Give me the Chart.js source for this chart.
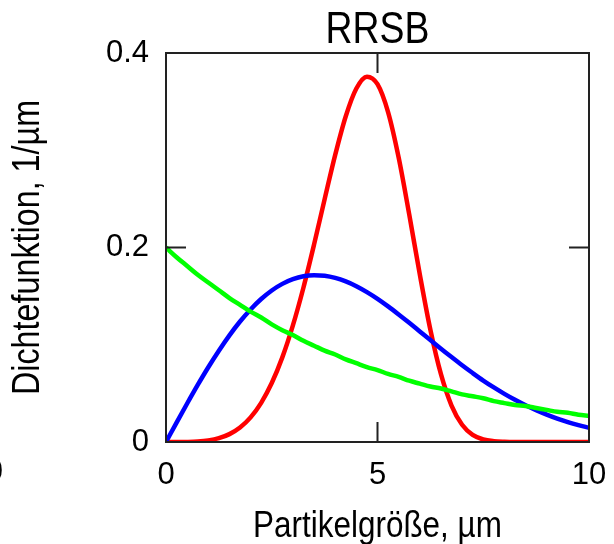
<!DOCTYPE html>
<html>
<head>
<meta charset="utf-8">
<script src="https://cdn.jsdelivr.net/npm/chart.js@4/dist/chart.umd.min.js"></script>
<style>
  html, body { margin: 0; padding: 0; background: #fff; }
  #c { display: block; }
</style>
</head>
<body>
<canvas id="c" width="614" height="544"></canvas>
<script>
const FONT = "'Liberation Sans Narrow', 'Liberation Sans', Arial, sans-serif";

const titel = 'RRSB';
const xTitel = 'Partikelgröße, µm';
const yTitel = 'Dichtefunktion, 1/µm';

// x positions (µm)
const groesse = [0, 0.25, 0.5, 0.75, 1, 1.25, 1.5, 1.75, 2, 2.25, 2.5, 2.75, 3, 3.25, 3.5, 3.75,
  4, 4.25, 4.5, 4.75, 5, 5.25, 5.5, 5.75, 6, 6.25, 6.5, 6.75, 7, 7.25, 7.5, 7.75,
  8, 8.25, 8.5, 8.75, 9, 9.25, 9.5, 9.75, 10];

// red, narrow peak
const rot = [0, 0, 0.0001, 0.0005, 0.0016, 0.0039, 0.0081, 0.0149, 0.0253, 0.0403, 0.0606, 0.0870,
  0.1199, 0.1589, 0.2030, 0.2496, 0.2952, 0.3350, 0.3635, 0.3757, 0.3679, 0.3392, 0.2925, 0.2340,
  0.1723, 0.1154, 0.0697, 0.0375, 0.0177, 0.0073, 0.0026, 0.0008, 0.0002, 0, 0, 0, 0, 0, 0, 0, 0];

// blue, broad peak
const blau = [0, 0.0200, 0.0396, 0.0587, 0.0769, 0.0939, 0.1097, 0.1239, 0.1363, 0.1470, 0.1558,
  0.1626, 0.1674, 0.1704, 0.1715, 0.1709, 0.1687, 0.1651, 0.1602, 0.1541, 0.1472, 0.1395, 0.1312,
  0.1226, 0.1137, 0.1048, 0.0959, 0.0873, 0.0789, 0.0709, 0.0632, 0.0561, 0.0495, 0.0434, 0.0378,
  0.0328, 0.0282, 0.0241, 0.0205, 0.0174, 0.0147];

// green, decaying from 0.2
const gruen = [0.200, 0.190, 0.181, 0.172, 0.164, 0.156, 0.148, 0.141, 0.134, 0.128, 0.121, 0.115,
  0.110, 0.104, 0.099, 0.094, 0.090, 0.085, 0.081, 0.077, 0.074, 0.070, 0.067, 0.063, 0.060, 0.057,
  0.055, 0.052, 0.049, 0.047, 0.045, 0.042, 0.040, 0.038, 0.037, 0.035, 0.033, 0.031, 0.030, 0.028, 0.027];

const xTicks = [0, 5, 10];
const yTicks = [0, 0.2, 0.4];

const punkte = (ys) => groesse.map((x, i) => ({ x: x, y: ys[i] }));

const linie = (ys, farbe) => ({
  data: punkte(ys),
  borderColor: farbe,
  borderWidth: 4.5,
  pointRadius: 0,
  fill: false,
  cubicInterpolationMode: 'monotone'
});

// narrow-looking text: squeeze along the writing direction
function schmal(ctx, text, x, y, size, drehen) {
  ctx.save();
  ctx.translate(x, y);
  if (drehen) ctx.rotate(-Math.PI / 2);
  ctx.scale(0.85, 1);
  ctx.font = size + 'px ' + FONT;
  ctx.fillStyle = '#000';
  ctx.textAlign = 'center';
  ctx.textBaseline = 'middle';
  ctx.fillText(text, 0, 0);
  ctx.restore();
}

// frame, inward ticks, titles, stray label from the neighbour plot
const rahmen = {
  id: 'rahmen',
  afterDatasetsDraw(chart) {
    const { ctx, chartArea: a, scales } = chart;
    ctx.save();
    ctx.strokeStyle = '#222';
    ctx.lineWidth = 2;
    ctx.strokeRect(a.left, a.top, a.right - a.left, a.bottom - a.top);
    const len = 20;
    ctx.beginPath();
    xTicks.forEach(v => {
      const px = scales.x.getPixelForValue(v);
      ctx.moveTo(px, a.top); ctx.lineTo(px, a.top + len);
      ctx.moveTo(px, a.bottom); ctx.lineTo(px, a.bottom - len);
    });
    yTicks.forEach(v => {
      const py = scales.y.getPixelForValue(v);
      ctx.moveTo(a.left, py); ctx.lineTo(a.left + len, py);
      ctx.moveTo(a.right, py); ctx.lineTo(a.right - len, py);
    });
    ctx.stroke();

    const mitte = (a.left + a.right) / 2;
    schmal(ctx, titel, mitte, 31, 44, false);
    schmal(ctx, xTitel, mitte, 527, 37, false);
    schmal(ctx, yTitel, 28.5, (a.top + a.bottom) / 2, 38, true);

    ctx.fillStyle = '#000';
    ctx.font = '31px ' + FONT;
    ctx.textAlign = 'right';
    ctx.textBaseline = 'top';
    ctx.fillText('10', 3, a.bottom + 15);
    ctx.restore();
  }
};

new Chart(document.getElementById('c'), {
  type: 'line',
  data: {
    datasets: [linie(gruen, '#00ff00'), linie(blau, '#0000ff'), linie(rot, '#ff0000')]
  },
  options: {
    responsive: false,
    animation: false,
    events: [],
    layout: { padding: { left: 0, top: 53, right: 25, bottom: 0 } },
    plugins: { legend: { display: false }, tooltip: { enabled: false }, title: { display: false } },
    scales: {
      x: {
        type: 'linear',
        min: 0,
        max: 10,
        afterFit: (s) => { s.height = 102; },
        afterBuildTicks: (s) => { s.ticks = xTicks.map(v => ({ value: v })); },
        // invisible tick marks only push the labels down
        grid: { display: false, drawTicks: true, tickLength: 12 },
        border: { display: false },
        ticks: { color: '#000', padding: 3, font: { family: FONT, size: 31 }, maxRotation: 0 }
      },
      y: {
        type: 'linear',
        min: 0,
        max: 0.4,
        afterFit: (s) => { s.width = 166; },
        afterBuildTicks: (s) => { s.ticks = yTicks.map(v => ({ value: v })); },
        grid: { display: false, drawTicks: false },
        border: { display: false },
        ticks: { color: '#000', padding: 17, font: { family: FONT, size: 31 } }
      }
    }
  },
  plugins: [rahmen]
});
</script>
</body>
</html>
